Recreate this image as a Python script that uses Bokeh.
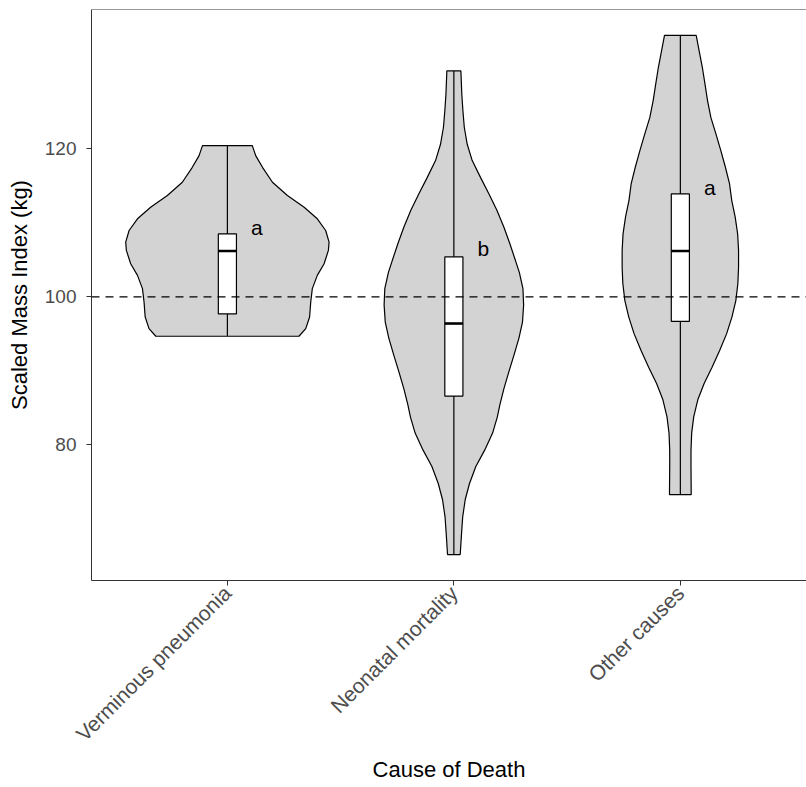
from math import pi
from bokeh.plotting import figure
from bokeh.models import Span, FixedTicker, Range1d
from bokeh.embed import file_html
from bokeh.resources import INLINE
from bokeh.core.properties import value

# ---------------- data ----------------
categories = ["Verminous pneumonia", "Neonatal mortality", "Other causes"]
positions = [1, 2, 3]
letters = ["a", "b", "a"]
letter_y = [109.4, 106.5, 114.8]

# box plot statistics (kg)
whisker_low = [94.7, 65.2, 73.3]
q1 = [97.7, 86.6, 96.7]
median = [106.2, 96.4, 106.2]
q3 = [108.5, 105.4, 113.9]
whisker_high = [120.4, 130.5, 135.3]

# violin outlines: y (kg) from top to bottom, half width (category units)
v1_y = [120.42, 119.07, 117.49, 115.47, 113.68, 112.10, 110.54, 108.96, 107.39,
        106.27, 104.47, 102.90, 101.11, 99.30, 97.28, 95.71, 94.68]
v1_w = [0.110, 0.125, 0.155, 0.199, 0.265, 0.339, 0.397, 0.434, 0.449,
        0.446, 0.427, 0.397, 0.375, 0.368, 0.363, 0.346, 0.316]

v2_y = [130.5, 127.4, 125.1, 122.9, 120.6, 118.4, 116.1, 113.9, 111.7, 109.4,
        107.2, 104.9, 103.3, 101.1, 98.9, 96.6, 94.4, 92.1, 89.9, 87.6,
        85.4, 83.8, 81.6, 79.3, 77.1, 74.8, 72.6, 70.3, 68.1, 65.2]
v2_w = [0.031, 0.035, 0.040, 0.046, 0.059, 0.081, 0.118, 0.155, 0.190, 0.221,
        0.247, 0.272, 0.289, 0.305, 0.308, 0.303, 0.287, 0.265, 0.243, 0.221,
        0.203, 0.192, 0.171, 0.136, 0.097, 0.069, 0.050, 0.039, 0.034, 0.028]

v3_y = [135.3, 133.2, 131.0, 128.7, 126.5, 124.2, 122.0, 119.7, 117.5, 115.3,
        113.0, 110.8, 108.5, 106.3, 104.0, 101.8, 99.5, 97.3, 95.0, 92.8,
        90.5, 88.3, 86.1, 83.8, 81.6, 79.3, 77.1, 73.3]
v3_w = [0.070, 0.083, 0.097, 0.109, 0.120, 0.135, 0.157, 0.179, 0.199, 0.217,
        0.227, 0.242, 0.253, 0.257, 0.257, 0.254, 0.245, 0.228, 0.204, 0.174,
        0.140, 0.105, 0.077, 0.059, 0.050, 0.047, 0.047, 0.048]

reference_line = 100
y_ticks = [80, 100, 120]

# ---------------- figure ----------------
FONT = "Liberation Sans"
Y0, Y1 = 61.7, 138.8

p = figure(width=806, height=787,
           x_range=Range1d(0.4, 3.557), y_range=Range1d(Y0, Y1),
           output_backend="svg", toolbar_location=None,
           min_border_left=91, min_border_top=9, min_border_right=0,
           min_border_bottom=207)
p.background_fill_color = "white"
p.border_fill_color = "white"
p.outline_line_color = None
p.xgrid.visible = False
p.ygrid.visible = False

# violins
vx, vy = [], []
for c, ys, ws in zip(positions, [v1_y, v2_y, v3_y], [v1_w, v2_w, v3_w]):
    xs = [c + w for w in ws] + [c - w for w in reversed(ws)]
    yy = list(ys) + list(reversed(ys))
    vx.append(xs)
    vy.append(yy)
p.patches(xs=vx, ys=vy, fill_color="#D3D3D3", line_color="black", line_width=1.2)

# whiskers
p.segment(x0=positions, y0=whisker_low, x1=positions, y1=whisker_high,
          line_color="black", line_width=1.2)

# boxes
bw = 0.08
p.quad(left=[c - bw / 2 for c in positions], right=[c + bw / 2 for c in positions],
       bottom=q1, top=q3, fill_color="white", line_color="black", line_width=1.2)
p.segment(x0=[c - bw / 2 for c in positions], y0=median,
          x1=[c + bw / 2 for c in positions], y1=median,
          line_color="black", line_width=2.6)

# letters
p.text(x=[c + 0.13 for c in positions], y=letter_y, text=letters,
       text_align="center", text_baseline="middle",
       text_font=value(FONT), text_font_size="21px", text_color="black")

# reference line
p.add_layout(Span(location=reference_line, dimension="width", line_color="black",
                  line_dash="8 6", line_width=1.1))
# top border of panel
p.add_layout(Span(location=Y1, dimension="width", line_color="#333333", line_width=1))

# axes
for ax in (p.xaxis[0], p.yaxis[0]):
    ax.axis_line_color = "#333333"
    ax.axis_line_width = 1
    ax.major_tick_line_color = "#333333"
    ax.major_tick_out = 5
    ax.major_tick_in = 0
    ax.minor_tick_line_color = None
    ax.major_label_text_font = FONT
    ax.major_label_text_color = "#4D4D4D"
    ax.axis_label_text_font = FONT
    ax.axis_label_text_font_size = "22px"
    ax.axis_label_text_font_style = "normal"
    ax.axis_label_text_color = "black"

p.yaxis[0].ticker = FixedTicker(ticks=y_ticks)
p.yaxis[0].axis_label = "Scaled Mass Index (kg)"
p.yaxis[0].major_label_text_font_size = "19px"
p.yaxis[0].major_label_standoff = 10
p.yaxis[0].axis_label_standoff = 10

p.xaxis[0].ticker = FixedTicker(ticks=positions)
p.xaxis[0].major_label_overrides = {c: n for c, n in zip(positions, categories)}
p.xaxis[0].major_label_orientation = pi / 4
p.xaxis[0].major_label_text_font_size = "21px"
p.xaxis[0].major_label_standoff = 4
p.xaxis[0].axis_label = "Cause of Death"
p.xaxis[0].axis_label_standoff = 0

open("out.html", "w").write(file_html(p, INLINE))
